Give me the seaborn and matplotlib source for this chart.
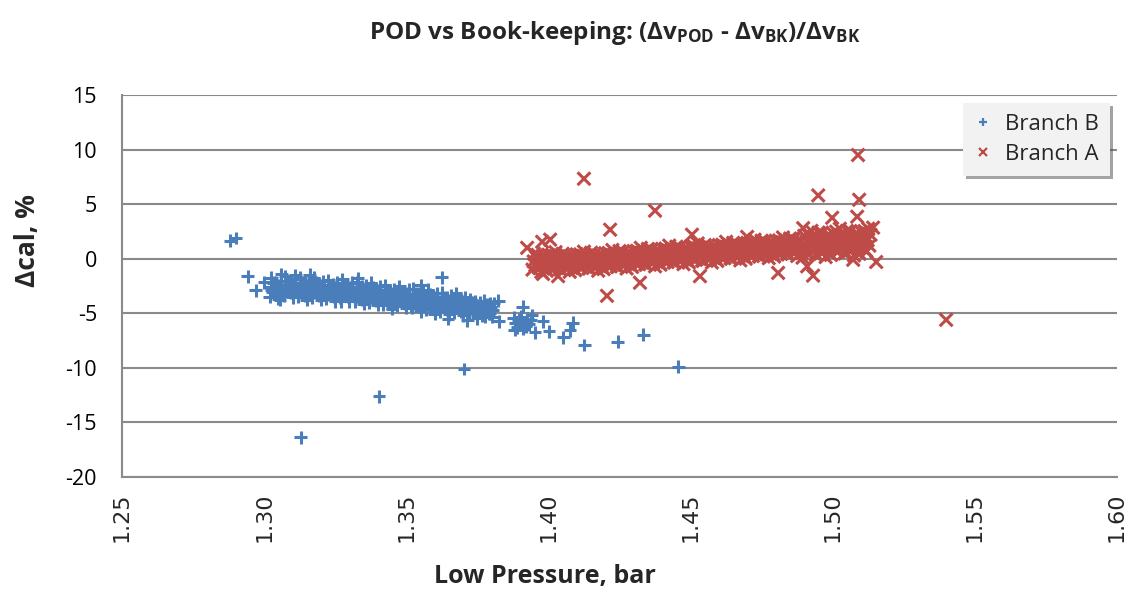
import matplotlib
matplotlib.use("Agg")
import matplotlib.pyplot as plt
from matplotlib.lines import Line2D
import seaborn as sns
import pandas as pd

# ---------------- data ----------------
# Branch B: isolated points
branch_b_x = [
    1.2880, 1.2900, 1.2942, 1.2971, 1.3000, 1.3024, 1.3056, 1.3625, 1.3703, 1.3404,
    1.3129, 1.3826, 1.3823, 1.3910, 1.3953, 1.3981, 1.4002, 1.3878, 1.3885, 1.3890,
    1.3895, 1.3900, 1.3905, 1.3910, 1.3915, 1.3920, 1.3925, 1.3930, 1.3938, 1.3942,
    1.3882, 1.3714, 1.3749, 1.3777, 1.3647, 1.4085, 1.4076, 1.4053, 1.4126, 1.4243,
    1.4334, 1.4457, 1.3270, 1.3060, 1.3110, 1.3160, 1.3330, 1.3450, 1.3550, 1.3600,
]
branch_b_y = [
    1.65, 1.90, -1.60, -2.90, -2.15, -2.90, -3.75, -1.70, -10.10, -12.60,
    -16.35, -5.75, -3.85, -4.40, -6.75, -5.75, -6.65, -5.40, -5.90, -6.30,
    -5.60, -6.00, -5.30, -6.40, -5.80, -6.20, -5.50, -6.00, -5.60, -5.20,
    -6.50, -5.65, -5.45, -5.30, -5.50, -5.85, -6.55, -7.20, -7.90, -7.60,
    -6.95, -9.90, -3.90, -1.40, -1.50, -1.45, -1.80, -4.60, -2.45, -5.05,
]
# Branch B: dense band
branch_b_band_x = [
    1.3019, 1.3029, 1.3023, 1.3033, 1.3025, 1.3044, 1.3054, 1.3048, 1.3058, 1.3050,
    1.3069, 1.3079, 1.3073, 1.3083, 1.3075, 1.3094, 1.3104, 1.3098, 1.3108, 1.3100,
    1.3119, 1.3129, 1.3123, 1.3133, 1.3125, 1.3144, 1.3154, 1.3148, 1.3158, 1.3150,
    1.3169, 1.3179, 1.3173, 1.3183, 1.3175, 1.3194, 1.3204, 1.3198, 1.3208, 1.3200,
    1.3219, 1.3229, 1.3223, 1.3233, 1.3225, 1.3244, 1.3254, 1.3248, 1.3258, 1.3250,
    1.3269, 1.3279, 1.3273, 1.3283, 1.3275, 1.3294, 1.3304, 1.3298, 1.3308, 1.3300,
    1.3319, 1.3329, 1.3323, 1.3333, 1.3325, 1.3344, 1.3354, 1.3348, 1.3358, 1.3350,
    1.3369, 1.3379, 1.3373, 1.3383, 1.3375, 1.3394, 1.3404, 1.3398, 1.3408, 1.3400,
    1.3419, 1.3429, 1.3423, 1.3433, 1.3425, 1.3444, 1.3454, 1.3448, 1.3458, 1.3450,
    1.3469, 1.3479, 1.3473, 1.3483, 1.3475, 1.3494, 1.3504, 1.3498, 1.3508, 1.3500,
    1.3519, 1.3529, 1.3523, 1.3533, 1.3525, 1.3544, 1.3554, 1.3548, 1.3558, 1.3550,
    1.3569, 1.3579, 1.3573, 1.3583, 1.3575, 1.3594, 1.3604, 1.3598, 1.3608, 1.3600,
    1.3619, 1.3629, 1.3623, 1.3633, 1.3625, 1.3644, 1.3654, 1.3648, 1.3658, 1.3650,
    1.3669, 1.3679, 1.3673, 1.3683, 1.3675, 1.3694, 1.3704, 1.3698, 1.3708, 1.3700,
    1.3719, 1.3729, 1.3723, 1.3733, 1.3725, 1.3744, 1.3754, 1.3748, 1.3758, 1.3750,
    1.3769, 1.3779, 1.3773, 1.3783, 1.3775, 1.3794, 1.3804, 1.3798, 1.3808, 1.3800,
    1.3041, 1.3034, 1.3043, 1.3066, 1.3059, 1.3068, 1.3091, 1.3084, 1.3093,
    1.3116, 1.3109, 1.3118, 1.3141, 1.3134, 1.3143, 1.3166, 1.3159, 1.3168,
    1.3191, 1.3184, 1.3193, 1.3216, 1.3209, 1.3218, 1.3241, 1.3234, 1.3243,
    1.3266, 1.3259, 1.3268, 1.3291, 1.3284, 1.3293, 1.3316, 1.3309, 1.3318,
    1.3341, 1.3334, 1.3343, 1.3366, 1.3359, 1.3368, 1.3391, 1.3384, 1.3393,
    1.3416, 1.3409, 1.3418, 1.3441, 1.3434, 1.3443, 1.3466, 1.3459, 1.3468,
    1.3491, 1.3484, 1.3493, 1.3516, 1.3509, 1.3518, 1.3541, 1.3534, 1.3543,
    1.3566, 1.3559, 1.3568, 1.3591, 1.3584, 1.3593, 1.3616, 1.3609, 1.3618,
    1.3641, 1.3634, 1.3643, 1.3666, 1.3659, 1.3668, 1.3691, 1.3684, 1.3693,
    1.3716, 1.3709, 1.3718, 1.3741, 1.3734, 1.3743, 1.3766, 1.3759, 1.3768,
    1.3791, 1.3784, 1.3793,
]
branch_b_band_y = [
    -3.50, -3.05, -2.60, -2.20, -1.75, -3.30, -2.85, -2.40, -2.00, -3.70,
    -3.40, -2.95, -2.50, -2.05, -1.60, -3.15, -2.70, -2.25, -1.85, -3.55,
    -3.50, -3.05, -2.60, -2.20, -1.75, -3.35, -2.90, -2.45, -2.05, -3.75,
    -3.55, -3.10, -2.65, -2.20, -1.75, -3.35, -2.90, -2.45, -2.05, -3.75,
    -3.70, -3.25, -2.80, -2.40, -1.95, -3.50, -3.05, -2.60, -2.20, -3.90,
    -3.70, -3.25, -2.80, -2.35, -1.90, -3.50, -3.05, -2.60, -2.20, -3.90,
    -3.90, -3.45, -3.00, -2.60, -2.15, -3.75, -3.30, -2.85, -2.45, -4.15,
    -4.00, -3.55, -3.10, -2.65, -2.20, -3.80, -3.35, -2.90, -2.50, -4.20,
    -4.20, -3.75, -3.30, -2.90, -2.45, -4.10, -3.65, -3.20, -2.80, -4.50,
    -4.30, -3.85, -3.40, -2.95, -2.50, -4.10, -3.65, -3.20, -2.80, -4.50,
    -4.50, -4.05, -3.60, -3.20, -2.75, -4.40, -3.95, -3.50, -3.10, -4.80,
    -4.65, -4.20, -3.75, -3.30, -2.85, -4.45, -4.00, -3.55, -3.15, -4.85,
    -4.85, -4.40, -3.95, -3.55, -3.10, -4.70, -4.25, -3.80, -3.40, -5.10,
    -4.95, -4.50, -4.05, -3.60, -3.15, -4.80, -4.35, -3.90, -3.50, -5.20,
    -4.95, -4.60, -4.30, -4.00, -3.70, -4.90, -4.60, -4.25, -4.00, -5.15,
    -5.10, -4.80, -4.45, -4.15, -3.85, -5.00, -4.70, -4.40, -4.10, -5.30,
    -3.10, -2.60, -2.15, -2.88, -2.38, -3.33, -3.05, -2.55, -2.10,
    -2.88, -2.38, -3.33, -3.13, -2.63, -2.18, -2.98, -2.48, -3.43,
    -3.23, -2.73, -2.28, -3.08, -2.58, -3.53, -3.30, -2.80, -2.35,
    -3.13, -2.63, -3.58, -3.38, -2.88, -2.43, -3.25, -2.75, -3.70,
    -3.53, -3.03, -2.58, -3.40, -2.90, -3.85, -3.68, -3.18, -2.73,
    -3.55, -3.05, -4.00, -3.85, -3.35, -2.90, -3.73, -3.23, -4.18,
    -3.98, -3.48, -3.03, -3.85, -3.35, -4.30, -4.15, -3.65, -3.20,
    -4.05, -3.55, -4.50, -4.33, -3.83, -3.38, -4.20, -3.70, -4.65,
    -4.48, -3.98, -3.53, -4.35, -3.85, -4.80, -4.65, -4.15, -3.70,
    -4.55, -4.05, -5.00, -4.85, -4.35, -3.90, -4.75, -4.25, -5.20,
    -5.05, -4.55, -4.10,
]

# Branch A: isolated points
branch_a_x = [
    1.4125, 1.4375, 1.4217, 1.4206, 1.4949, 1.5093, 1.5086, 1.4533, 1.4322, 1.4034,
    1.3981, 1.4808, 1.4910, 1.4931, 1.5153, 1.3925, 1.3978, 1.4006, 1.4505, 1.4998,
    1.5142, 1.5089, 1.5399, 1.4699, 1.4896, 1.5072,
]
branch_a_y = [
    7.33, 4.40, 2.66, -3.40, 5.80, 5.40, 3.85, -1.60, -2.20, -1.60,
    -1.40, -1.30, -0.70, -1.55, -0.30, 1.00, 1.55, 1.75, 2.20, 3.75,
    2.85, 9.50, -5.60, 2.00, 2.80, -0.10,
]
# Branch A: dense band
branch_a_band_x = [
    1.3944, 1.3954, 1.3948, 1.3958, 1.3950, 1.3969, 1.3979, 1.3973, 1.3983, 1.3975,
    1.3994, 1.4004, 1.3998, 1.4008, 1.4000, 1.4019, 1.4029, 1.4023, 1.4033, 1.4025,
    1.4044, 1.4054, 1.4048, 1.4058, 1.4050, 1.4069, 1.4079, 1.4073, 1.4083, 1.4075,
    1.4094, 1.4104, 1.4098, 1.4108, 1.4100, 1.4119, 1.4129, 1.4123, 1.4133, 1.4125,
    1.4144, 1.4154, 1.4148, 1.4158, 1.4150, 1.4169, 1.4179, 1.4173, 1.4183, 1.4175,
    1.4194, 1.4204, 1.4198, 1.4208, 1.4200, 1.4219, 1.4229, 1.4223, 1.4233, 1.4225,
    1.4244, 1.4254, 1.4248, 1.4258, 1.4250, 1.4269, 1.4279, 1.4273, 1.4283, 1.4275,
    1.4294, 1.4304, 1.4298, 1.4308, 1.4300, 1.4319, 1.4329, 1.4323, 1.4333, 1.4325,
    1.4344, 1.4354, 1.4348, 1.4358, 1.4350, 1.4369, 1.4379, 1.4373, 1.4383, 1.4375,
    1.4394, 1.4404, 1.4398, 1.4408, 1.4400, 1.4419, 1.4429, 1.4423, 1.4433, 1.4425,
    1.4444, 1.4454, 1.4448, 1.4458, 1.4450, 1.4469, 1.4479, 1.4473, 1.4483, 1.4475,
    1.4494, 1.4504, 1.4498, 1.4508, 1.4500, 1.4519, 1.4529, 1.4523, 1.4533, 1.4525,
    1.4544, 1.4554, 1.4548, 1.4558, 1.4550, 1.4569, 1.4579, 1.4573, 1.4583, 1.4575,
    1.4594, 1.4604, 1.4598, 1.4608, 1.4600, 1.4619, 1.4629, 1.4623, 1.4633, 1.4625,
    1.4644, 1.4654, 1.4648, 1.4658, 1.4650, 1.4669, 1.4679, 1.4673, 1.4683, 1.4675,
    1.4694, 1.4704, 1.4698, 1.4708, 1.4700, 1.4719, 1.4729, 1.4723, 1.4733, 1.4725,
    1.4744, 1.4754, 1.4748, 1.4758, 1.4750, 1.4769, 1.4779, 1.4773, 1.4783, 1.4775,
    1.4794, 1.4804, 1.4798, 1.4808, 1.4800, 1.4819, 1.4829, 1.4823, 1.4833, 1.4825,
    1.4844, 1.4854, 1.4848, 1.4858, 1.4850, 1.4869, 1.4879, 1.4873, 1.4883, 1.4875,
    1.4894, 1.4904, 1.4898, 1.4908, 1.4900, 1.4919, 1.4929, 1.4923, 1.4933, 1.4925,
    1.4944, 1.4954, 1.4948, 1.4958, 1.4950, 1.4969, 1.4979, 1.4973, 1.4983, 1.4975,
    1.4994, 1.5004, 1.4998, 1.5008, 1.5000, 1.5019, 1.5029, 1.5023, 1.5033, 1.5025,
    1.5044, 1.5054, 1.5048, 1.5058, 1.5050, 1.5069, 1.5079, 1.5073, 1.5083, 1.5075,
    1.5094, 1.5104, 1.5098, 1.5108, 1.5100, 1.5119, 1.5129, 1.5123, 1.5133, 1.5125,
    1.3966, 1.3958, 1.3969, 1.3962, 1.3991, 1.3983, 1.3994, 1.3987,
    1.4016, 1.4008, 1.4019, 1.4012, 1.4041, 1.4033, 1.4044, 1.4037,
    1.4066, 1.4058, 1.4069, 1.4062, 1.4091, 1.4083, 1.4094, 1.4087,
    1.4116, 1.4108, 1.4119, 1.4112, 1.4141, 1.4133, 1.4144, 1.4137,
    1.4166, 1.4158, 1.4169, 1.4162, 1.4191, 1.4183, 1.4194, 1.4187,
    1.4216, 1.4208, 1.4219, 1.4212, 1.4241, 1.4233, 1.4244, 1.4237,
    1.4266, 1.4258, 1.4269, 1.4262, 1.4291, 1.4283, 1.4294, 1.4287,
    1.4316, 1.4308, 1.4319, 1.4312, 1.4341, 1.4333, 1.4344, 1.4337,
    1.4366, 1.4358, 1.4369, 1.4362, 1.4391, 1.4383, 1.4394, 1.4387,
    1.4416, 1.4408, 1.4419, 1.4412, 1.4441, 1.4433, 1.4444, 1.4437,
    1.4466, 1.4458, 1.4469, 1.4462, 1.4491, 1.4483, 1.4494, 1.4487,
    1.4516, 1.4508, 1.4519, 1.4512, 1.4541, 1.4533, 1.4544, 1.4537,
    1.4566, 1.4558, 1.4569, 1.4562, 1.4591, 1.4583, 1.4594, 1.4587,
    1.4616, 1.4608, 1.4619, 1.4612, 1.4641, 1.4633, 1.4644, 1.4637,
    1.4666, 1.4658, 1.4669, 1.4662, 1.4691, 1.4683, 1.4694, 1.4687,
    1.4716, 1.4708, 1.4719, 1.4712, 1.4741, 1.4733, 1.4744, 1.4737,
    1.4766, 1.4758, 1.4769, 1.4762, 1.4791, 1.4783, 1.4794, 1.4787,
    1.4816, 1.4808, 1.4819, 1.4812, 1.4841, 1.4833, 1.4844, 1.4837,
    1.4866, 1.4858, 1.4869, 1.4862, 1.4891, 1.4883, 1.4894, 1.4887,
    1.4916, 1.4908, 1.4919, 1.4912, 1.4941, 1.4933, 1.4944, 1.4937,
    1.4966, 1.4958, 1.4969, 1.4962, 1.4991, 1.4983, 1.4994, 1.4987,
    1.5016, 1.5008, 1.5019, 1.5012, 1.5041, 1.5033, 1.5044, 1.5037,
    1.5066, 1.5058, 1.5069, 1.5062, 1.5091, 1.5083, 1.5094, 1.5087,
    1.5116, 1.5108, 1.5119, 1.5112,
]
branch_a_band_y = [
    -1.00, -0.60, -0.25, 0.10, 0.45, -0.85, -0.45, -0.10, 0.25, -1.20,
    -1.10, -0.70, -0.30, 0.00, 0.35, -0.90, -0.50, -0.15, 0.20, 0.60,
    -1.00, -0.60, -0.25, 0.10, 0.45, -0.85, -0.45, -0.10, 0.25, -1.20,
    -1.05, -0.65, -0.25, 0.05, 0.40, -0.85, -0.45, -0.10, 0.25, 0.65,
    -0.90, -0.50, -0.15, 0.20, 0.55, -0.75, -0.35, 0.00, 0.35, -1.10,
    -0.95, -0.55, -0.15, 0.15, 0.50, -0.70, -0.30, 0.05, 0.40, 0.80,
    -0.75, -0.35, 0.00, 0.35, 0.70, -0.55, -0.15, 0.20, 0.55, -0.90,
    -0.75, -0.35, 0.05, 0.35, 0.70, -0.50, -0.10, 0.25, 0.60, 1.00,
    -0.55, -0.15, 0.20, 0.55, 0.90, -0.35, 0.05, 0.40, 0.75, -0.70,
    -0.55, -0.15, 0.25, 0.55, 0.90, -0.30, 0.10, 0.45, 0.80, 1.20,
    -0.35, 0.05, 0.40, 0.75, 1.10, -0.15, 0.25, 0.60, 0.95, -0.50,
    -0.35, 0.05, 0.45, 0.75, 1.10, -0.10, 0.30, 0.65, 1.00, 1.40,
    -0.20, 0.20, 0.55, 0.90, 1.25, 0.00, 0.40, 0.75, 1.10, -0.35,
    -0.20, 0.20, 0.60, 0.90, 1.25, 0.05, 0.45, 0.80, 1.15, 1.55,
    0.00, 0.40, 0.75, 1.10, 1.45, 0.20, 0.60, 0.95, 1.30, -0.15,
    0.00, 0.40, 0.80, 1.10, 1.45, 0.25, 0.65, 1.00, 1.35, 1.75,
    0.20, 0.60, 0.95, 1.30, 1.65, 0.40, 0.80, 1.15, 1.50, 0.05,
    0.20, 0.60, 1.00, 1.30, 1.65, 0.45, 0.85, 1.20, 1.55, 1.95,
    0.40, 0.80, 1.15, 1.50, 1.85, 0.60, 1.00, 1.35, 1.70, 0.25,
    0.10, 0.65, 1.20, 1.60, 2.10, 0.45, 1.00, 1.50, 2.00, 2.55,
    0.35, 0.95, 1.40, 1.90, 2.40, 0.65, 1.20, 1.70, 2.15, 0.15,
    0.35, 0.90, 1.45, 1.85, 2.35, 0.65, 1.20, 1.70, 2.20, 2.75,
    0.50, 1.10, 1.55, 2.05, 2.55, 0.80, 1.35, 1.85, 2.30, 0.30,
    0.45, 1.00, 1.55, 1.95, 2.45, 0.65, 1.20, 1.70, 2.20, 2.75,
    -0.80, -0.40, 0.00, 0.35, -0.95, -0.55, -0.15, 0.20,
    -0.80, -0.40, 0.00, 0.35, -0.95, -0.55, -0.15, 0.20,
    -0.80, -0.40, 0.00, 0.35, -0.93, -0.53, -0.13, 0.23,
    -0.75, -0.35, 0.05, 0.40, -0.88, -0.48, -0.08, 0.28,
    -0.70, -0.30, 0.10, 0.45, -0.83, -0.43, -0.03, 0.33,
    -0.63, -0.23, 0.18, 0.53, -0.73, -0.33, 0.08, 0.43,
    -0.53, -0.13, 0.28, 0.63, -0.63, -0.23, 0.18, 0.53,
    -0.43, -0.03, 0.38, 0.73, -0.53, -0.13, 0.28, 0.63,
    -0.33, 0.08, 0.48, 0.83, -0.43, -0.03, 0.38, 0.73,
    -0.23, 0.18, 0.58, 0.93, -0.33, 0.08, 0.48, 0.83,
    -0.13, 0.28, 0.68, 1.03, -0.23, 0.18, 0.58, 0.93,
    -0.03, 0.38, 0.78, 1.13, -0.15, 0.25, 0.65, 1.00,
    0.03, 0.43, 0.83, 1.18, -0.08, 0.33, 0.73, 1.08,
    0.13, 0.53, 0.93, 1.28, 0.03, 0.43, 0.83, 1.18,
    0.23, 0.63, 1.03, 1.38, 0.13, 0.53, 0.93, 1.28,
    0.33, 0.73, 1.13, 1.48, 0.23, 0.63, 1.03, 1.38,
    0.43, 0.83, 1.23, 1.58, 0.33, 0.73, 1.13, 1.48,
    0.53, 0.93, 1.33, 1.68, 0.43, 0.83, 1.23, 1.58,
    0.63, 1.03, 1.43, 1.78, 0.53, 0.93, 1.33, 1.68,
    0.50, 1.10, 1.70, 2.25, 0.33, 0.93, 1.53, 2.08,
    0.63, 1.23, 1.83, 2.38, 0.43, 1.03, 1.63, 2.18,
    0.73, 1.33, 1.93, 2.48, 0.50, 1.10, 1.70, 2.25,
    0.78, 1.38, 1.98, 2.53, 0.55, 1.15, 1.75, 2.30,
    0.78, 1.38, 1.98, 2.53,
]

series_names = ["Branch B", "Branch A"]
x_ticks = [1.25, 1.30, 1.35, 1.40, 1.45, 1.50, 1.55, 1.60]
x_tick_labels = ["1.25", "1.30", "1.35", "1.40", "1.45", "1.50", "1.55", "1.60"]
y_ticks = [15, 10, 5, 0, -5, -10, -15, -20]

# ---------------- styling ----------------
BLUE = "#4A7EBB"
RED = "#BE4B48"
GRID = "#8A8A8A"
FONT = "Open Sans"

sns.set_theme(style="white")
plt.rcParams["font.family"] = [FONT, "DejaVu Sans"]
plt.rcParams["mathtext.fontset"] = "custom"
plt.rcParams["mathtext.rm"] = FONT
plt.rcParams["mathtext.bf"] = FONT + ":bold"
plt.rcParams["mathtext.it"] = FONT + ":italic"

df = pd.concat([
    pd.DataFrame({"x": branch_b_x + branch_b_band_x,
                  "y": branch_b_y + branch_b_band_y, "branch": series_names[0]}),
    pd.DataFrame({"x": branch_a_x + branch_a_band_x,
                  "y": branch_a_y + branch_a_band_y, "branch": series_names[1]}),
], ignore_index=True)

fig = plt.figure(figsize=(11.35, 5.95), dpi=100)
ax = fig.add_axes([122 / 1135, 1 - 477 / 595, 995 / 1135, 382 / 595])

sns.scatterplot(
    data=df, x="x", y="y", hue="branch", style="branch",
    palette={"Branch B": BLUE, "Branch A": RED},
    markers={"Branch B": "+", "Branch A": "x"},
    s=85, linewidth=2.2, legend=False, ax=ax, zorder=3,
)

ax.set_xlim(1.25, 1.60)
ax.set_ylim(-20, 15)
ax.set_xticks(x_ticks)
ax.set_xticklabels(x_tick_labels, rotation=90, fontsize=16, family="DejaVu Sans")
ax.set_yticks(y_ticks)
ax.set_yticklabels([str(v) for v in y_ticks], fontsize=15.5)
ax.tick_params(axis="y", length=0, pad=18, colors="black")
ax.tick_params(axis="x", length=7, width=1.4, color=GRID, direction="out", pad=4)

ax.grid(axis="y", color=GRID, linewidth=1.5, zorder=0)
ax.grid(axis="x", visible=False)
for side in ("top", "right"):
    ax.spines[side].set_visible(False)
for side in ("left", "bottom"):
    ax.spines[side].set_color(GRID)
    ax.spines[side].set_linewidth(1.5)

ax.set_xlabel("Low Pressure, bar", fontsize=18, fontweight="bold")
ax.set_ylabel("Δcal, %", fontsize=19, fontweight="bold")
ax.xaxis.set_label_coords((545 - 122) / 995, (477 - 564) / 382)
ax.yaxis.set_label_coords((41 - 122) / 995, (477 - 241) / 382)

fig.text(615 / 1135, 1 - 33 / 595,
         r"POD vs Book-keeping: ($\mathbf{\Delta v_{POD}}$ - $\mathbf{\Delta v_{BK}}$)/$\mathbf{\Delta v_{BK}}$",
         ha="center", va="center", fontsize=17.5, fontweight="bold")

handles = [
    Line2D([], [], linestyle="none", marker="+", color=BLUE, markersize=6, markeredgewidth=1.6),
    Line2D([], [], linestyle="none", marker="x", color=RED, markersize=5.5, markeredgewidth=1.6),
]
leg = ax.legend(handles, series_names, loc="upper right",
                bbox_to_anchor=(0.993, 0.979), fontsize=16,
                frameon=True, fancybox=False, shadow=True,
                facecolor="#F2F2F2", edgecolor="#F2F2F2",
                handlelength=0.8, handletextpad=0.6, borderpad=0.5,
                labelspacing=0.4, borderaxespad=0)
leg.get_frame().set_linewidth(0)

fig.savefig("out.png", dpi=100)
